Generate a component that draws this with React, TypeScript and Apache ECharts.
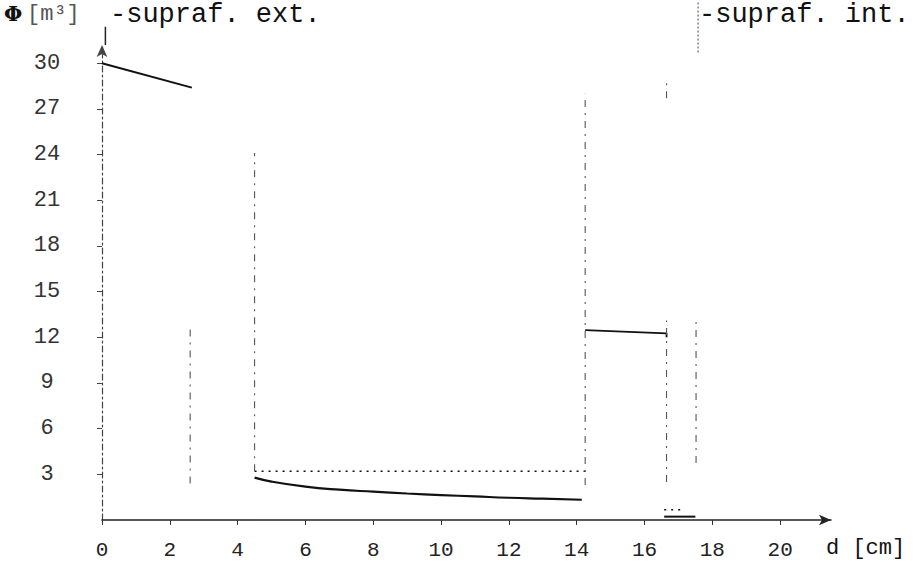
import React, { useEffect, useRef } from "react";
import * as echarts from "echarts";

const xTicks = [0, 2, 4, 6, 8, 10, 12, 14, 16, 18, 20];
const yTicks = [3, 6, 9, 12, 15, 18, 21, 24, 27, 30];

// solid profile segments (d [cm], value)
const outerLayer = [[0, 30.0], [2.65, 28.4]];
const insulationCurve = [
  [4.5, 2.78], [5.0, 2.52], [6.0, 2.19], [7.0, 1.99], [8.0, 1.86], [9.0, 1.74],
  [10.0, 1.64], [11.0, 1.55], [12.0, 1.46], [13.0, 1.4], [14.15, 1.33],
];
const insulationDotted = [[4.5, 3.2], [14.25, 3.2]];
const innerLayer = [[14.25, 12.47], [16.65, 12.26], [16.65, 12.0]];
const finishSolid = [[16.58, 0.22], [17.5, 0.22]];
const finishDotted = [[16.58, 0.68], [17.2, 0.68]];

// layer boundaries: [x, yFrom, yTo]
const boundaries = [
  [2.6, 2.4, 12.9],
  [4.5, 3.2, 24.1],
  [14.25, 2.3, 28.0],
  [16.65, 2.5, 13.1],
  [16.65, 27.7, 28.9],
  [17.52, 3.74, 13.3],
];
const surfaceMarks = [
  [0.1, 31.2, 32.4],
  [17.58, 30.7, 34.0],
];

export default function App() {
  const ref = useRef<HTMLDivElement>(null);
  useEffect(() => {
    const chart = echarts.init(ref.current!, null, { renderer: "svg" });
    const mono = "'Liberation Mono', 'DejaVu Sans Mono', monospace";
    const lineSeries = (data: number[][], type: any, width: number, color = "#111", smooth = false) => ({
      type: "line",
      data,
      symbol: "none",
      smooth,
      clip: false,
      silent: true,
      lineStyle: { color, width, type },
    });
    const series: any[] = [
      lineSeries(outerLayer, "solid", 2),
      lineSeries(insulationCurve, "solid", 2.2, "#111", true),
      lineSeries(insulationDotted, [2, 5], 1.5),
      lineSeries(innerLayer, "solid", 1.8),
      lineSeries(finishSolid, "solid", 2),
      lineSeries(finishDotted, [2, 5], 1.5),
      ...boundaries.map((b) => lineSeries([[b[0], b[1]], [b[0], b[2]]], [7, 6, 2, 6], 1.1, "#555")),
      lineSeries([[surfaceMarks[0][0], surfaceMarks[0][1]], [surfaceMarks[0][0], surfaceMarks[0][2]]], "solid", 1.5, "#222"),
      lineSeries([[surfaceMarks[1][0], surfaceMarks[1][1]], [surfaceMarks[1][0], surfaceMarks[1][2]]], [2, 2], 1.2, "#666"),
    ];
    chart.setOption({
      animation: false,
      backgroundColor: "#fff",
      grid: { left: 102, top: 45, width: 729, height: 475 },
      xAxis: {
        type: "value",
        min: 0,
        max: 21.5,
        interval: 2,
        splitLine: { show: false },
        axisLine: {
          onZero: false,
          symbol: ["none", "arrow"],
          symbolSize: [8, 12],
          lineStyle: { color: "#222", width: 1.5 },
        },
        axisTick: { show: true, customValues: xTicks, length: 5, inside: false, lineStyle: { color: "#333" } },
        axisLabel: {
          customValues: xTicks,
          margin: 20,
          color: "#222",
          fontFamily: mono,
          fontSize: 21,
        },
      },
      yAxis: {
        type: "value",
        min: 0,
        max: 31.2,
        interval: 3,
        splitLine: { show: false },
        axisLine: {
          onZero: false,
          symbol: ["none", "arrow"],
          symbolSize: [8, 12],
          lineStyle: { color: "#444", width: 1.2, type: [6, 3, 2, 3] },
        },
        axisTick: { show: true, customValues: yTicks, length: 5, lineStyle: { color: "#444" } },
        axisLabel: {
          customValues: yTicks,
          margin: 55,
          align: "center",
          color: "#333",
          fontFamily: mono,
          fontSize: 22,
        },
      },
      graphic: [
        { type: "text", left: 4, top: 3, style: { text: "Φ", font: "bold 21px 'DejaVu Serif', serif", fill: "#111" } },
        { type: "text", left: 27, top: 3, style: { text: "[m³]", font: "22px " + mono, fill: "#555" } },
        { type: "text", left: 110, top: 1, style: { text: "-supraf. ext.", font: "27px " + mono, fill: "#111" } },
        { type: "text", left: 699, top: 1, style: { text: "-supraf. int.", font: "27px " + mono, fill: "#111" } },
        { type: "text", left: 826, top: 537, style: { text: "d [cm]", font: "22px " + mono, fill: "#111" } },
      ],
      series,
    });
    return () => chart.dispose();
  }, []);
  return <div ref={ref} style={{ position: "fixed", left: 0, top: 0, width: 919, height: 563 }} />;
}
